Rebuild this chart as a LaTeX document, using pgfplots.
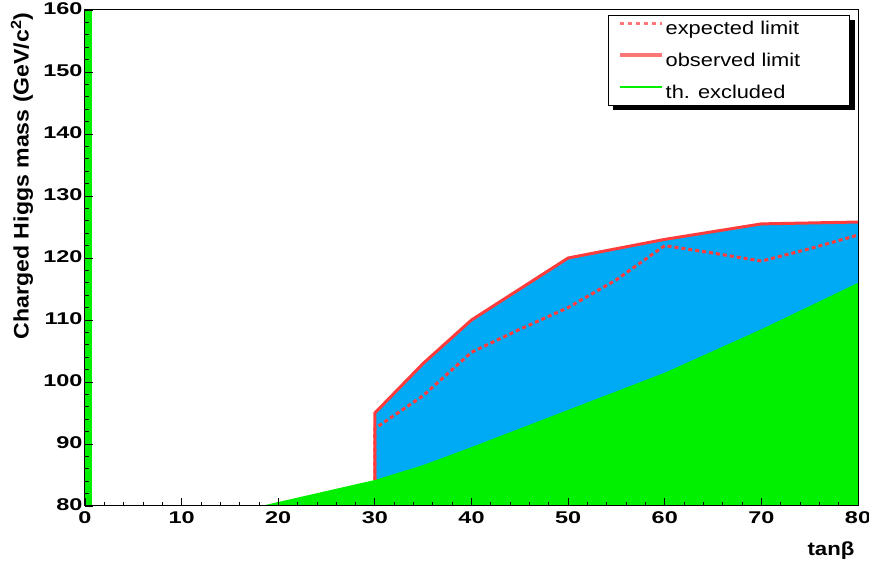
\documentclass[border=0pt]{standalone}
\usepackage{fontspec}
\setmainfont{Liberation Sans}[FakeStretch=1.3]
\newfontfamily\tickfont{Liberation Sans}[FakeStretch=1.38]
\newfontfamily\legfont{Liberation Sans}[FakeStretch=1.18]
\newfontfamily\ylabfont{Liberation Sans}[FakeStretch=1.1]
\newfontfamily\xlabfont{Liberation Sans}[FakeStretch=1.17]
\usepackage{pgfplots}
\pgfplotsset{compat=1.18}
\definecolor{rblue}{RGB}{0,170,245}
\definecolor{rgreen}{RGB}{0,240,0}
\definecolor{rred}{RGB}{255,60,60}
\begin{document}
\begin{tikzpicture}
\useasboundingbox (0,0) rectangle (869pt,564pt);
\begin{axis}[
  at={(85pt,58pt)}, anchor=south west,
  scale only axis, width=773pt, height=496pt,
  xmin=0, xmax=80, ymin=80, ymax=160,
  xtick={0,10,...,80}, ytick={80,90,...,160},
  minor x tick num=4, minor y tick num=4,
  tick align=inside, xtick pos=left, ytick pos=left,
  major tick length=8pt, minor tick length=4pt,
  tick style={black, line width=0.8pt},
  axis line style={black, line width=1pt},
  axis on top,
  /pgf/number format/assume math mode=true,
  ticklabel style={font=\tickfont\fontsize{17}{17}\selectfont\bfseries},
  xticklabel style={yshift=-2.5pt},
  yticklabel style={xshift=1pt, yshift=1pt},
  xlabel={tanβ},
  xlabel style={at={(axis description cs:1,-0.089)}, anchor=east, font=\xlabfont\fontsize{19}{19}\selectfont\bfseries},
  ylabel={Charged Higgs mass (GeV/c\textsuperscript{2})},
  ylabel style={at={(axis description cs:-0.0815,1.002)}, anchor=east, font=\ylabfont\fontsize{21}{21}\selectfont\bfseries},
  legend style={name=leg, at={(0.9897,0.99)}, anchor=north east, draw=black, line width=0.8pt, fill=white,
    font=\legfont\fontsize{18.5}{18.5}\selectfont, row sep=13pt, inner xsep=9.5pt, inner ysep=3.5pt},
  legend cell align=left,
  legend image code/.code={\draw[#1] (0pt,5pt) -- (42pt,5pt);},
]
% observed excluded region (blue)
\addplot[draw=none, fill=rblue, forget plot] coordinates {
 (30,80) (30,95) (35,103) (40,110) (50,120) (60,123) (70,125.5) (80,125.8) (80,80)} -- cycle;
% theoretically excluded (green)
\addplot[draw=none, fill=rgreen, forget plot] coordinates {
 (18.2,80) (30,84.2) (35,86.6) (40,89.5) (50,95.5) (60,101.5) (70,108.5) (80,116) (80,80)} -- cycle;
\addplot[draw=none, fill=rgreen, forget plot] coordinates {
 (0,80) (0.7,80) (0.7,160) (0,160)} -- cycle;
% observed limit
\addplot[rred, line width=3pt, forget plot] coordinates {
 (30,84.2) (30,95) (35,103) (40,110) (50,120) (60,123) (70,125.5) (80,125.8)};
% expected limit
\addplot[rred, line width=3pt, dash pattern=on 4pt off 3pt, forget plot] coordinates {
 (30,84.2) (30,92.5) (35,97.8) (40,104.8) (45,108.5) (50,112) (55,116.5) (60,122) (65,120.8) (70,119.5) (75,121.5) (80,123.7)};
\addlegendimage{draw=rred!70, line width=3pt, dash pattern=on 4pt off 4pt}
\addlegendentry{expected limit\hspace*{39pt}}
\addlegendimage{draw=rred!70, line width=4pt}
\addlegendentry{observed limit}
\addlegendimage{draw=rgreen, line width=2pt}
\addlegendentry{th. excluded}
\end{axis}
\fill[black] ([xshift=0.4pt,yshift=-5pt]leg.north east) rectangle ([xshift=5pt,yshift=-5pt]leg.south east);
\fill[black] ([xshift=5pt,yshift=-0.4pt]leg.south west) rectangle ([xshift=5pt,yshift=-5pt]leg.south east);
\end{tikzpicture}
\end{document}
